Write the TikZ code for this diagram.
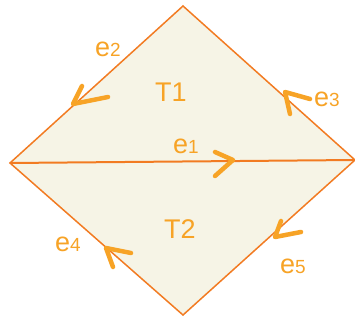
\documentclass[tikz,border=0pt]{standalone}
\usepackage{fontspec}
\setmainfont{Liberation Sans}
\definecolor{edgeor}{HTML}{F27B22}
\definecolor{markor}{HTML}{F7A326}
\definecolor{fillbg}{HTML}{F6F4E6}
\begin{document}
\begin{tikzpicture}[x=1pt,y=-1pt,
  edgeline/.style={draw=edgeor,line width=1.5pt,line join=miter},
  chev/.style={draw=markor,line width=4.5pt,line cap=round,line join=round},
  lbl/.style={text=markor,inner sep=0pt,font=\fontsize{27}{27}\selectfont},
  tri/.style={text=markor,inner sep=0pt,font=\fontsize{27}{27}\selectfont}]
\useasboundingbox (0,0) rectangle (355,320);
\coordinate (top) at (183,6);
\coordinate (left) at (10,163);
\coordinate (right) at (355,160);
\coordinate (bot) at (183,315);
\fill[fillbg] (top) -- (right) -- (bot) -- (left) -- cycle;
\draw[edgeline] (top) -- (right) -- (bot) -- (left) -- cycle;
\draw[edgeline,line width=2pt] (left) -- (right);
% chevrons
\draw[chev] (108,97) -- (73,104) -- (82,86);
\draw[chev] (310,99) -- (285,92) -- (290,114);
\draw[chev] (215,152) -- (233,160) -- (215,176);
\draw[chev] (131,253) -- (106,248) -- (113,267);
\draw[chev] (301,232) -- (275,237) -- (281,221);
% labels
\node[lbl] (le2) at (108,49) {e{\fontsize{19}{19}\selectfont 2}};
\node[lbl] (le3) at (327,99) {e{\fontsize{19}{19}\selectfont 3}};
\node[lbl] (le1) at (186,146) {e{\fontsize{19}{19}\selectfont 1}};
\node[lbl] (le4) at (68,244) {e{\fontsize{19}{19}\selectfont 4}};
\node[lbl] (le5) at (293,266) {e{\fontsize{19}{19}\selectfont 5}};
\node[tri] (t1) at (171,92) {T1};
\node[tri] (t2) at (180,229) {T2};
\end{tikzpicture}
\end{document}
